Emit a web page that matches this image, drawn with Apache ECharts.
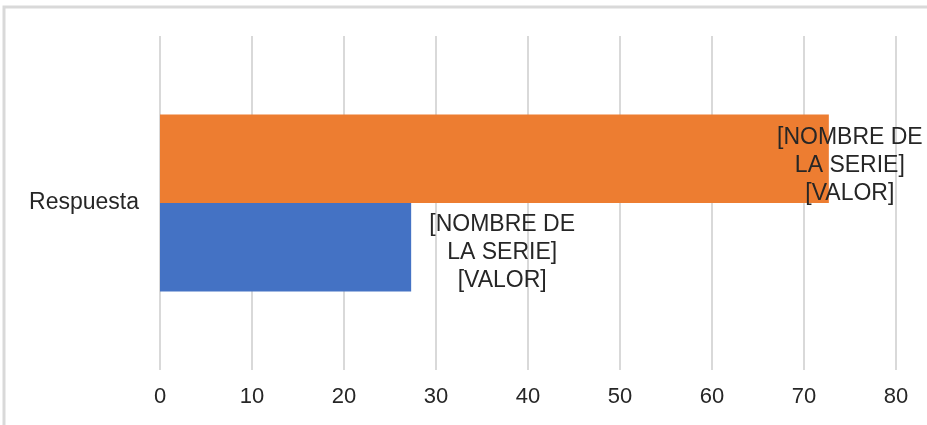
<!DOCTYPE html>
<html><head><meta charset="utf-8">
<script src="https://cdn.jsdelivr.net/npm/echarts@6/dist/echarts.min.js"></script>
<style>html,body{margin:0;padding:0;background:#fff}#c{width:927px;height:425px}</style>
</head><body><div id="c"></div>
<script>
const categories = ['Respuesta'];
const seriesNames = ['Serie 1', 'Serie 2'];
const blueValues = [27.3];
const orangeValues = [72.7];
const labelText = '[NOMBRE DE\nLA SERIE]\n[VALOR]';
const xTicks = [0, 10, 20, 30, 40, 50, 60, 70, 80];

const font = '"Liberation Sans", Arial, sans-serif';
const chart = echarts.init(document.getElementById('c'));
const labelStyle = {
  show: true, formatter: () => labelText, position: 'right', align: 'center',
  fontFamily: font, fontSize: 23, lineHeight: 28, color: '#262626'
};
chart.setOption({
  animation: false,
  graphic: [{ type: 'rect', shape: { x: 4, y: 7, width: 1000, height: 1000 },
    style: { fill: 'none', stroke: '#d9d9d9', lineWidth: 3 }, silent: true }],
  grid: { left: 160, right: 31, top: 36, bottom: 55 },
  xAxis: {
    type: 'value', min: xTicks[0], max: xTicks[xTicks.length - 1], interval: 10,
    axisLine: { show: false }, axisTick: { show: false },
    splitLine: { lineStyle: { color: '#d9d9d9', width: 2 } },
    axisLabel: { margin: 16, fontFamily: font, fontSize: 22, color: '#262626' }
  },
  yAxis: {
    type: 'category', data: categories,
    axisLine: { show: false }, axisTick: { show: false },
    axisLabel: { margin: 21, fontFamily: font, fontSize: 23, color: '#262626' }
  },
  series: [
    { name: seriesNames[1], type: 'bar', data: orangeValues, barGap: 0, barCategoryGap: '47%',
      itemStyle: { color: '#ed7d31' },
      label: Object.assign({}, labelStyle, { distance: 21, offset: [0, 7] }) },
    { name: seriesNames[0], type: 'bar', data: blueValues, barGap: 0, barCategoryGap: '47%',
      itemStyle: { color: '#4472c4' },
      label: Object.assign({}, labelStyle, { distance: 91, offset: [0, 5] }) }
  ]
});
</script></body></html>
